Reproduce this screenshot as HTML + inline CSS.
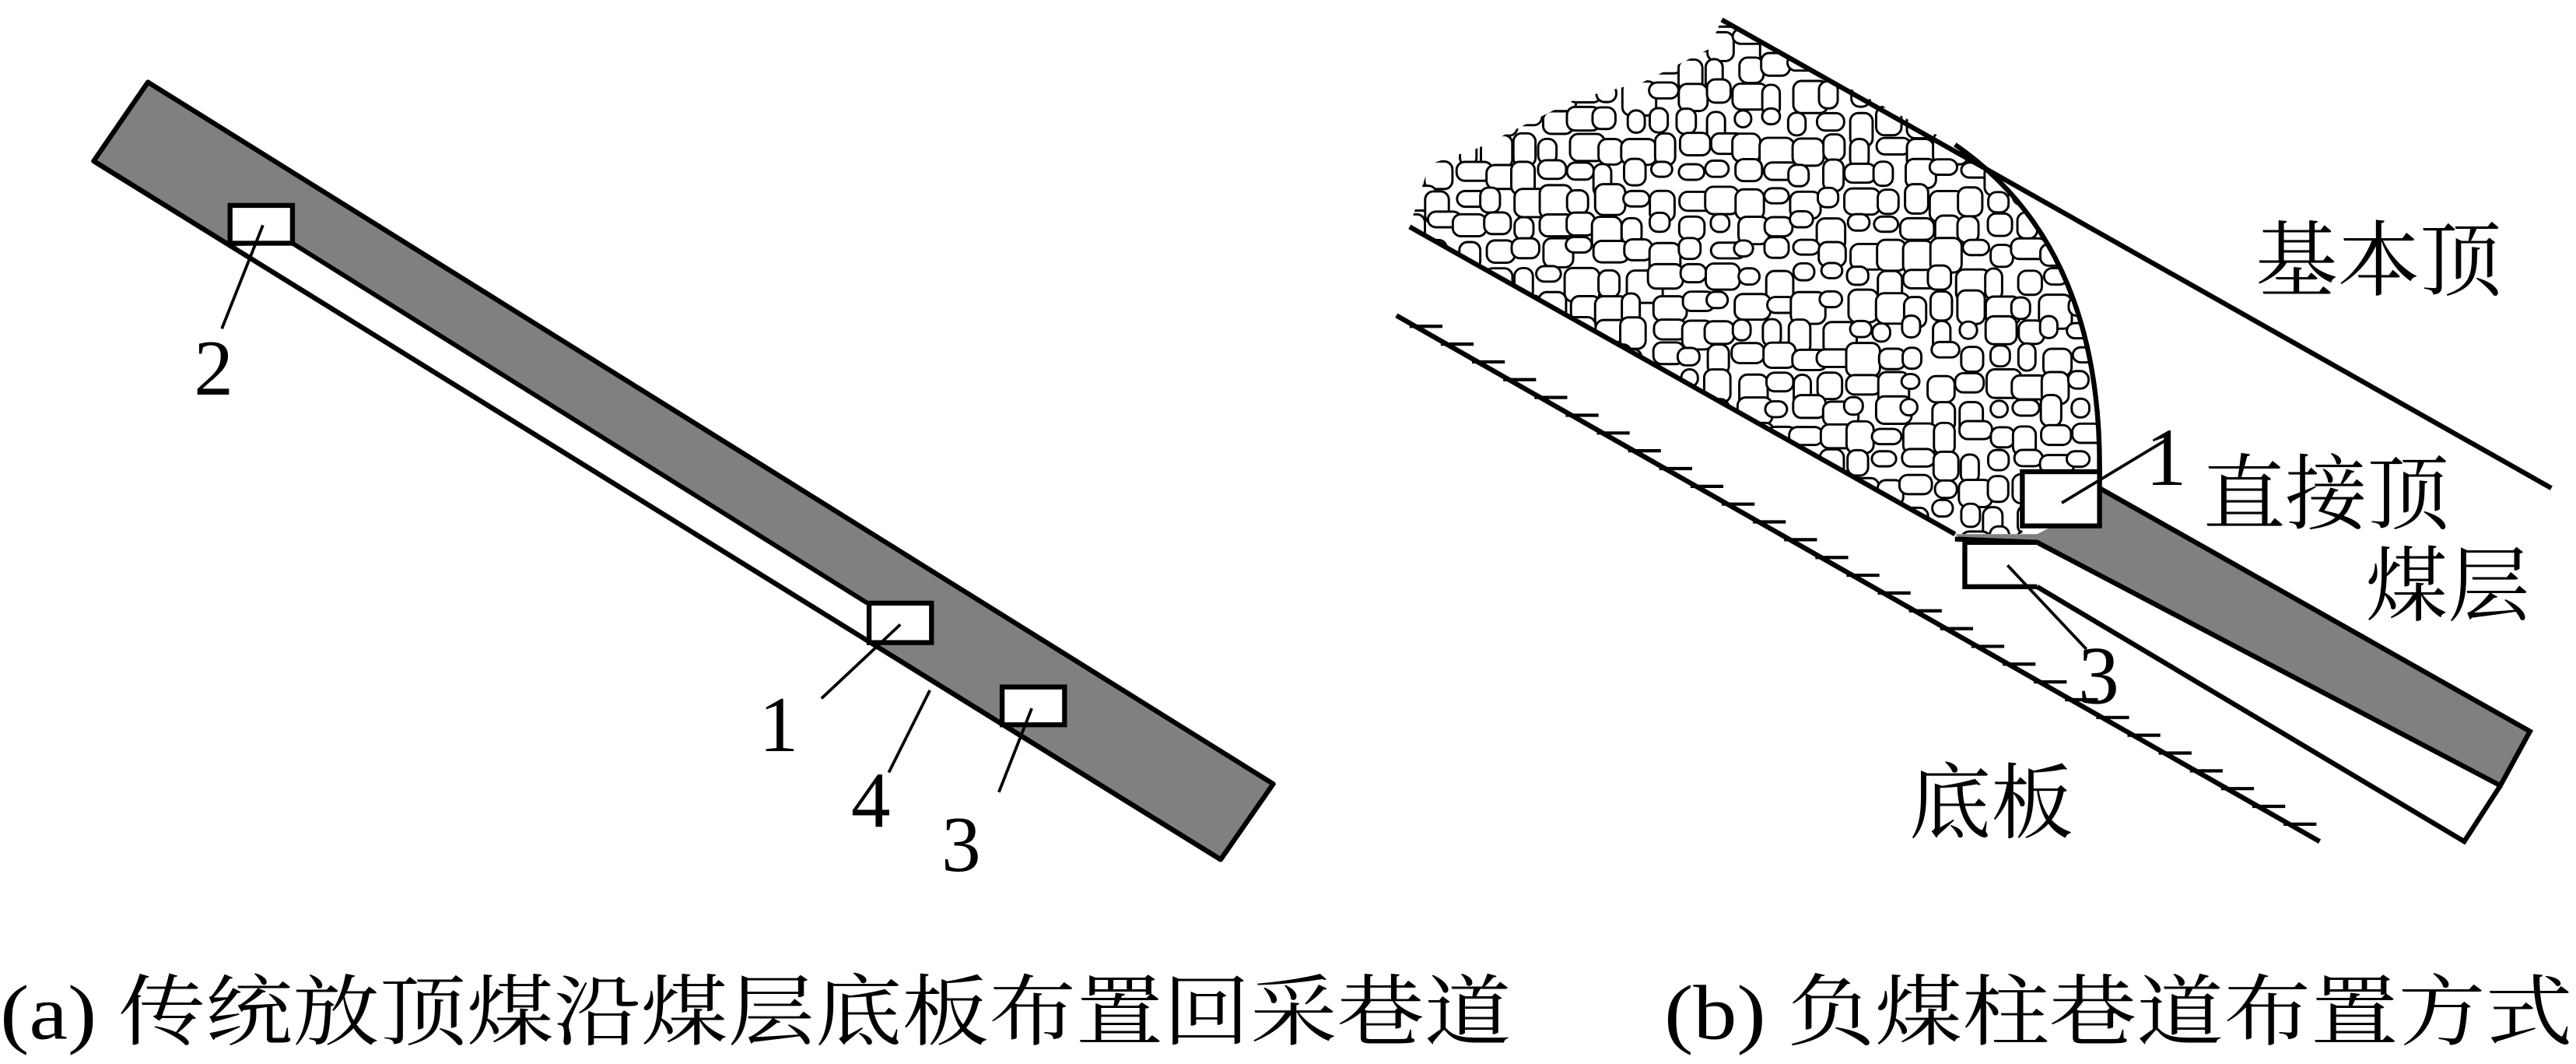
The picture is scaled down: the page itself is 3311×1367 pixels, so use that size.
<!DOCTYPE html>
<html><head><meta charset="utf-8"><style>
html,body{margin:0;padding:0;background:#fff}
svg{display:block}
text{font-family:"Liberation Serif","Noto Serif CJK SC",serif;fill:#000}
</style></head><body>
<svg id="s" width="3311" height="1367" viewBox="0 0 1568 647.4" xmlns="http://www.w3.org/2000/svg">
<defs>
<clipPath id="gob"><path d="M858,138 L1190,325 L1231,325 L1231,287 L1278,287 Q1280,150 1190,88 L1048,12 L1040,30 L1020,40 L1000,50 L960,60 L930,75 L900,90 L870,100 Z"/></clipPath>
</defs>
<!-- LEFT PANEL -->
<polygon points="90,50 775,477 743,523 57,98" fill="#808080" stroke="#000" stroke-width="3" stroke-linejoin="round"/>
<polygon points="178,148 528,367 528,391 140,150" fill="#fff" stroke="none"/>
<line x1="178" y1="148" x2="528" y2="367" stroke="#000" stroke-width="2.8"/>
<line x1="57" y1="98" x2="743" y2="523" stroke="#000" stroke-width="3"/>
<rect x="140" y="125" width="38" height="23" fill="#fff" stroke="#000" stroke-width="3"/>
<rect x="529" y="367" width="38" height="24" fill="#fff" stroke="#000" stroke-width="3"/>
<rect x="610" y="418" width="38" height="23" fill="#fff" stroke="#000" stroke-width="3"/>
<g stroke="#000" stroke-width="1.8">
<line x1="160" y1="137" x2="135" y2="200"/>
<line x1="548" y1="380" x2="500" y2="425"/>
<line x1="566" y1="420" x2="541" y2="470"/>
<line x1="628" y1="431" x2="608" y2="482"/>
</g>
<g font-size="48">
<text x="118" y="240">2</text>
<text x="462" y="457">1</text>
<text x="518" y="503">4</text>
<text x="573" y="530">3</text>
</g>
<!-- RIGHT PANEL -->
<g id="rub" clip-path="url(#gob)"></g>
<path d="M1278,290 Q1280,150 1190,88" fill="none" stroke="#000" stroke-width="3"/>
<line x1="1048" y1="12" x2="1553" y2="297" stroke="#000" stroke-width="3"/>
<line x1="858" y1="138" x2="1190" y2="325" stroke="#000" stroke-width="3"/>
<polygon points="1190,325 1240,325 1278,305 1278,297 1540,445 1522,478 1240,330 1196,330" fill="#808080" stroke="none"/>
<polyline points="1278,297 1540,445 1522,478 1240,330 1190,328" fill="none" stroke="#000" stroke-width="3"/>
<polyline points="1522,478 1500,512 1240,357" fill="none" stroke="#000" stroke-width="3"/>
<polyline points="1240,330 1196,330 1196,357 1240,357" fill="#fff" stroke="#000" stroke-width="3"/>
<rect x="1231" y="287" width="47" height="33" fill="#fff" stroke="#000" stroke-width="3"/>
<line x1="850" y1="192" x2="1412" y2="512" stroke="#000" stroke-width="3"/>
<g id="ticks" stroke="#000" stroke-width="2"></g>
<g stroke="#000" stroke-width="1.8">
<line x1="1255" y1="306" x2="1318" y2="268"/>
<line x1="1222" y1="344" x2="1270" y2="395"/>
</g>
<g font-size="50">
<text x="1373" y="176">基本顶</text>
<text x="1306" y="295">1</text>
<text x="1341" y="318">直接顶</text>
<text x="1440" y="374">煤层</text>
<text x="1265" y="428">3</text>
<text x="1162" y="506">底板</text>
</g>
<text x="0" y="632" font-size="47" textLength="920" lengthAdjust="spacingAndGlyphs">(a) 传统放顶煤沿煤层底板布置回采巷道</text>
<text x="1013" y="632" font-size="47" textLength="553" lengthAdjust="spacingAndGlyphs">(b) 负煤柱巷道布置方式</text>
</svg>
<script>
(function(){
var NS="http://www.w3.org/2000/svg";
var t=document.getElementById("ticks");
for(var x=858;x<1405;x+=19){var y=192+(x-850)*(320/562);
var l=document.createElementNS(NS,"line");l.setAttribute("x1",x);l.setAttribute("y1",y+2);l.setAttribute("x2",x+20);l.setAttribute("y2",y+2);t.appendChild(l);}
var g=document.getElementById("rub");var s=12345;
function r(){s=(s*16807)%2147483647;return s/2147483647;}
for(var yy=2;yy<335;yy+=16){for(var xx=852;xx<1285;xx+=17){
var w=10+r()*12,h=9+r()*12;
var e=document.createElementNS(NS,"rect");
e.setAttribute("x",xx+r()*5-2);e.setAttribute("y",yy+r()*5-2);
e.setAttribute("width",w);e.setAttribute("height",h);
e.setAttribute("rx",5);e.setAttribute("fill","#fff");
e.setAttribute("stroke","#000");e.setAttribute("stroke-width","1.4");g.appendChild(e);}}
})();
</script>
</body></html>
